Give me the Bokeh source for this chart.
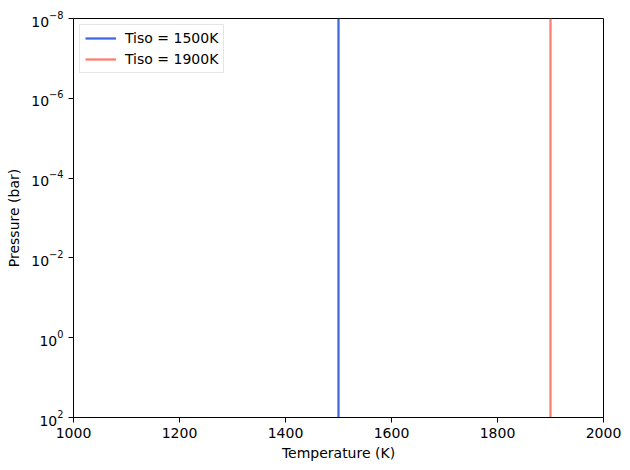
from bokeh.plotting import figure
from bokeh.models import Range1d, FixedTicker, Legend, LegendItem
from bokeh.embed import file_html
from bokeh.resources import INLINE

# Data
tiso_values = [1500, 1900]
tiso_labels = ["Tiso = 1500K", "Tiso = 1900K"]
colors = ["#4169E1", "#FA8072"]
pressure = [1e2, 1e-8]
y_ticks = [1e-8, 1e-6, 1e-4, 1e-2, 1e0, 1e2]
x_ticks = [1000, 1200, 1400, 1600, 1800, 2000]

FONT = "DejaVu Sans"

p = figure(width=622, height=462, output_backend="svg", toolbar_location=None,
           y_axis_type="log",
           x_range=Range1d(1000, 2000), y_range=Range1d(1e2, 1e-8))
p.frame_width = 530
p.frame_height = 399
p.min_border_left = 73
p.min_border_top = 18
p.min_border_right = 19
p.min_border_bottom = 45

p.grid.visible = False
p.outline_line_color = "black"
p.outline_line_width = 1
p.background_fill_color = "white"
p.border_fill_color = "white"

p.xaxis.ticker = FixedTicker(ticks=x_ticks, minor_ticks=[])
p.yaxis.ticker = FixedTicker(ticks=y_ticks, minor_ticks=[])
for ax in (p.xaxis, p.yaxis):
    ax.major_tick_out = 5
    ax.major_tick_in = 0
    ax.minor_tick_out = 0
    ax.minor_tick_in = 0
    ax.axis_line_color = "black"
    ax.major_label_text_font = FONT
    ax.major_label_text_font_size = "14px"
    ax.major_label_text_color = "black"
    ax.axis_label_text_font = FONT
    ax.axis_label_text_font_size = "14px"
    ax.axis_label_text_font_style = "normal"
    ax.axis_label_text_color = "black"
p.xaxis.axis_label = "Temperature (K)"
p.yaxis.axis_label = "Pressure (bar)"
p.xaxis.axis_label_standoff = 4
p.yaxis.axis_label_standoff = 6

items = []
for t, lab, c in zip(tiso_values, tiso_labels, colors):
    r = p.line(x=[t, t], y=pressure, line_color=c, line_width=2.3)
    items.append(LegendItem(label=lab, renderers=[r]))

legend = Legend(items=items, location="top_left")
legend.label_text_font = FONT
legend.label_text_font_size = "14px"
legend.label_text_color = "black"
legend.border_line_color = "#cccccc"
legend.border_line_width = 1
legend.background_fill_alpha = 0.8
legend.margin = 6
legend.padding = 5
legend.spacing = 5
legend.glyph_width = 31
legend.glyph_height = 16
legend.label_height = 16
legend.label_standoff = 9
p.add_layout(legend)

open("out.html", "w").write(file_html(p, INLINE))
